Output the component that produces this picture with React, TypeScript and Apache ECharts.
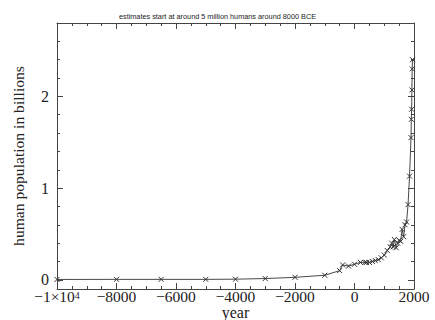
import React, { useEffect, useRef } from "react";
import * as echarts from "echarts";

const years = [
  -10000, -8000, -6500, -5000, -4000, -3000, -2000, -1000, -500, -400, -200,
  1, 200, 350, 400, 500, 600, 700, 800, 900, 1000, 1100, 1200, 1250, 1300,
  1340, 1400, 1450, 1500, 1550, 1600, 1650, 1700, 1750, 1800, 1850, 1900,
  1910, 1920, 1930, 1940, 1950,
];
const populationBillions = [
  0.004, 0.005, 0.005, 0.005, 0.007, 0.014, 0.027, 0.05, 0.1, 0.162, 0.15,
  0.17, 0.19, 0.19, 0.19, 0.19, 0.2, 0.21, 0.22, 0.24, 0.27, 0.32, 0.36, 0.4,
  0.36, 0.44, 0.35, 0.4, 0.43, 0.42, 0.55, 0.47, 0.6, 0.63, 0.82, 1.13, 1.55,
  1.75, 1.86, 2.07, 2.3, 2.4,
];
const yMajorTicks = [0, 1, 2];
const yMinorTicks = [0.2, 0.4, 0.6, 0.8, 1.2, 1.4, 1.6, 1.8, 2.2, 2.4, 2.6];
const titleText = "estimates start at around 5 million humans around 8000 BCE";
const xName = "year";
const yName = "human population in billions";

const AX = "#444";
const SERIF = "'Liberation Serif', 'DejaVu Serif', serif";

export default function App() {
  const ref = useRef<HTMLDivElement>(null);
  useEffect(() => {
    if (!ref.current) return;
    const chart = echarts.init(ref.current, undefined, { renderer: "svg" });
    const yBase = { type: "value", min: -0.1, max: 2.8, gridIndex: 0 };
    const lineCommon = { show: true, onZero: false, lineStyle: { color: AX, width: 1 } };
    const noLine = { show: false, onZero: false };
    chart.setOption({
      animation: false,
      backgroundColor: "#fff",
      title: {
        text: titleText,
        left: "center",
        top: 8,
        textStyle: {
          fontFamily: "'Liberation Sans', Arial, sans-serif",
          fontSize: 7.3,
          fontWeight: "normal",
          color: "#222",
        },
      },
      grid: {
        left: 57,
        top: 23,
        right: 21,
        bottom: 31,
        containLabel: false,
        outerBoundsMode: "none",
      },
      xAxis: [
        {
          type: "value",
          min: -10000,
          max: 2000,
          interval: 2000,
          position: "bottom",
          name: xName,
          nameLocation: "middle",
          nameGap: 16,
          nameMoveOverlap: false,
          nameTextStyle: { fontFamily: SERIF, fontSize: 16, lineHeight: 14, color: "#222" },
          axisLine: lineCommon,
          axisTick: { show: true, inside: true, length: 6, lineStyle: { color: AX } },
          minorTick: { show: true, splitNumber: 4, length: 3, lineStyle: { color: AX } },
          splitLine: { show: false },
          axisLabel: {
            margin: 1,
            fontFamily: SERIF,
            fontSize: 15.5,
            lineHeight: 13,
            color: "#222",
            formatter: (v: number) =>
              v === -10000
                ? "{a|−1×10}{s|4}"
                : v < 0
                ? "−" + Math.abs(v)
                : String(v),
            rich: {
              a: { fontFamily: SERIF, fontSize: 15.5, lineHeight: 13, color: "#222" },
              s: { fontFamily: SERIF, fontSize: 10, color: "#222", verticalAlign: "top", padding: [0, 0, 6, 0] },
            },
          },
        },
        {
          type: "value",
          min: -10000,
          max: 2000,
          interval: 2000,
          position: "top",
          axisLine: lineCommon,
          axisTick: { show: true, inside: true, length: 6, lineStyle: { color: AX } },
          minorTick: { show: true, splitNumber: 4, length: 3, lineStyle: { color: AX } },
          splitLine: { show: false },
          axisLabel: { show: false },
        },
      ],
      yAxis: [
        {
          ...yBase,
          position: "left",
          name: yName,
          nameLocation: "middle",
          nameGap: 31,
          nameMoveOverlap: false,
          nameRotate: 90,
          nameTextStyle: { fontFamily: SERIF, fontSize: 15.6, color: "#222" },
          axisLine: lineCommon,
          axisTick: { show: true, inside: true, length: 6, customValues: yMajorTicks, lineStyle: { color: AX } },
          splitLine: { show: false },
          axisLabel: {
            customValues: yMajorTicks,
            margin: 8,
            fontFamily: SERIF,
            fontSize: 16,
            color: "#222",
          },
        },
        {
          ...yBase,
          position: "right",
          axisLine: lineCommon,
          axisTick: { show: true, inside: true, length: 6, customValues: yMajorTicks, lineStyle: { color: AX } },
          splitLine: { show: false },
          axisLabel: { show: false },
        },
        {
          ...yBase,
          position: "left",
          axisLine: noLine,
          axisTick: { show: true, inside: true, length: 3, customValues: yMinorTicks, lineStyle: { color: AX } },
          splitLine: { show: false },
          axisLabel: { show: false },
        },
        {
          ...yBase,
          position: "right",
          axisLine: noLine,
          axisTick: { show: true, inside: true, length: 3, customValues: yMinorTicks, lineStyle: { color: AX } },
          splitLine: { show: false },
          axisLabel: { show: false },
        },
      ],
      series: [
        {
          type: "line",
          xAxisIndex: 0,
          yAxisIndex: 0,
          data: years.map((y, i) => [y, populationBillions[i]]),
          symbol: "path://M0,0L10,10M10,0L0,10",
          symbolSize: 5,
          showAllSymbol: true,
          lineStyle: { color: "#333", width: 0.9 },
          itemStyle: { color: "#333", borderColor: "#333", borderWidth: 1 },
        },
      ],
    });
    return () => chart.dispose();
  }, []);
  return (
    <div
      ref={ref}
      style={{ position: "absolute", left: 0, top: 0, width: 435, height: 320 }}
    />
  );
}
